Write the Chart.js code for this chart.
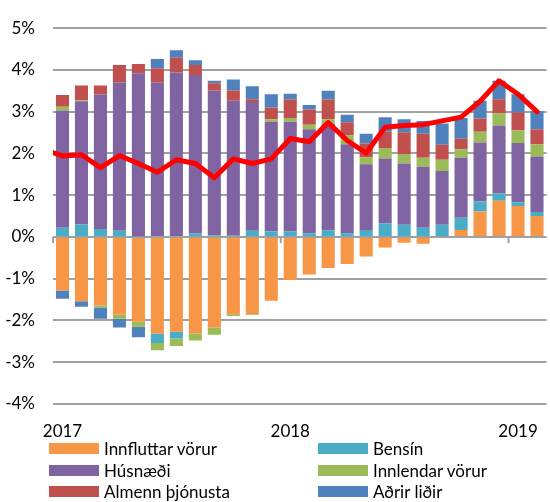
<!DOCTYPE html>
<html>
<head>
<meta charset="utf-8">
<script src="https://cdn.jsdelivr.net/npm/chart.js@4/dist/chart.umd.min.js"></script>
<style>
html,body{margin:0;padding:0;overflow:hidden;background:#fff;width:550px;height:502px}
#wrap{position:relative;width:550px;height:502px;overflow:hidden}
#c{position:absolute;left:0;top:0}
.lg{position:absolute;font-family:Lato,"Open Sans",sans-serif;font-size:17px;color:#000;display:flex;align-items:center;white-space:nowrap;height:22px}
.sw{width:50px;height:11px;margin-right:5px;flex:none}
</style>
</head>
<body>
<div id="wrap"><canvas id="c" width="554" height="502"></canvas></div>
<script>
// Months (Jan 2017 - Feb 2019)
const categories = [
  '2017-01','2017-02','2017-03','2017-04','2017-05','2017-06','2017-07','2017-08','2017-09','2017-10','2017-11','2017-12',
  '2018-01','2018-02','2018-03','2018-04','2018-05','2018-06','2018-07','2018-08','2018-09','2018-10','2018-11','2018-12',
  '2019-01','2019-02'
];

// Contributions to inflation (percentage points)
const innfluttarVorur = [-1.28,-1.54,-1.64,-1.86,-2.03,-2.31,-2.27,-2.31,-2.17,-1.85,-1.85,-1.53,-1.03,-0.90,-0.74,-0.65,-0.47,-0.25,-0.14,-0.16,0.00,0.17,0.61,0.87,0.74,0.50];
const bensin          = [0.22,0.30,0.19,0.15,0.01,-0.23,-0.16,0.09,0.04,0.03,0.15,0.13,0.13,0.09,0.16,0.09,0.17,0.32,0.29,0.22,0.29,0.29,0.24,0.17,0.09,0.10];
const husnaedi        = [2.81,2.95,3.22,3.55,3.91,3.70,3.94,3.79,3.47,3.23,3.08,2.63,2.63,2.49,2.56,2.13,1.57,1.56,1.47,1.46,1.29,1.44,1.41,1.63,1.42,1.33];
const innlendarVorur  = [0.09,0.02,-0.05,-0.10,-0.12,-0.17,-0.18,-0.17,-0.17,-0.04,-0.02,0.06,0.09,0.11,0.10,0.21,0.17,0.25,0.23,0.22,0.27,0.20,0.26,0.29,0.30,0.29];
const almennThjonusta = [0.28,0.36,0.22,0.42,0.22,0.34,0.35,0.24,0.17,0.25,0.07,0.28,0.44,0.36,0.47,0.32,0.33,0.39,0.52,0.57,0.36,0.25,0.32,0.34,0.43,0.36];
const adrirLidir      = [-0.20,-0.13,-0.27,-0.21,-0.25,0.22,0.18,0.11,0.06,0.26,0.31,0.32,0.14,0.11,0.21,0.18,0.23,0.35,0.31,0.31,0.51,0.50,0.42,0.44,0.44,0.43];

// Inflation (%), Dec 2016 - Feb 2019 (first point lies just outside the plot)
const inflationMonths = ['2016-12'].concat(categories);
const inflation = [2.10,1.94,1.97,1.66,1.95,1.76,1.55,1.85,1.76,1.42,1.87,1.76,1.87,2.36,2.28,2.74,2.31,2.01,2.63,2.67,2.69,2.78,2.87,3.25,3.74,3.42,3.00];

// Axis settings
const yMin = -4, yMax = 5, yStep = 1;

const seriesNames = ['Innfluttar vörur','Bensín','Húsnæði','Innlendar vörur','Almenn þjónusta','Aðrir liðir'];
const seriesData = [innfluttarVorur, bensin, husnaedi, innlendarVorur, almennThjonusta, adrirLidir];
const seriesColors = ['#F79646','#4BACC6','#8064A2','#9BBB59','#C0504D','#4F81BD'];
const gridColor = '#a0a0a0';
const FONT = 'Lato';

const datasets = seriesNames.map((n,i)=>({
  type:'bar', label:n, data:seriesData[i], backgroundColor:seriesColors[i],
  borderWidth:0, barPercentage:0.69, categoryPercentage:1, grouped:false, stack:'s', order:1,
  xAxisID:'x', yAxisID:'y'
}));
datasets.push({
  type:'line', label:'Verðbólga',
  data: inflation.map((v,i)=>({x: categories.indexOf(inflationMonths[i]), y: v})),
  borderColor:'#FF0000', borderWidth:5, pointRadius:0, tension:0, fill:false,
  borderJoinStyle:'round', borderCapStyle:'round', order:0, stack:'line',
  xAxisID:'x2', yAxisID:'y'
});

const yearTicks = {
  id:'yearTicks',
  beforeDatasetsDraw(chart){
    const x2 = chart.scales.x2, y = chart.scales.y, ctx = chart.ctx;
    const y0 = y.getPixelForValue(0);
    ctx.save();
    ctx.strokeStyle = gridColor; ctx.lineWidth = 2;
    categories.forEach((c,i)=>{
      if (c.endsWith('-01')) {
        const x = x2.getPixelForValue(i - 0.5);
        ctx.beginPath(); ctx.moveTo(x, y0); ctx.lineTo(x, y0 + 6); ctx.stroke();
      }
    });
    ctx.restore();
  }
};

new Chart(document.getElementById('c'), {
  data:{ labels: categories, datasets },
  plugins:[yearTicks],
  options:{
    responsive:false, animation:false,
    layout:{ padding:{ top:15, bottom:0, left:0, right:0 } },
    plugins:{ legend:{display:false}, tooltip:{enabled:false} },
    scales:{
      x:{
        type:'category', offset:true, stacked:true,
        grid:{ display:false, drawTicks:false }, border:{ display:false },
        ticks:{ autoSkip:false, maxRotation:0, minRotation:0, padding:17,
          color:'#000', font:{ family:FONT, size:17 },
          callback:(v,i)=> categories[i].endsWith('-01') ? categories[i].slice(0,4) : '' },
        afterFit:(s)=>{ s.height = 98; }
      },
      x2:{ type:'linear', display:false, min:-0.5, max:categories.length - 0.5 },
      y:{
        stacked:true, min:yMin, max:yMax,
        ticks:{ stepSize:yStep, padding:18, color:'#000', font:{ family:FONT, size:17 },
          callback:(v)=> v + '%' },
        grid:{ color:gridColor, lineWidth:2, drawTicks:false },
        border:{ display:false },
        afterFit:(s)=>{ s.width = 53; }
      }
    }
  }
});

// Legend (two columns)
const wrap = document.getElementById('wrap');
const legendPos = [[49,437],[318,437],[49,459],[318,459],[49,480],[318,480]];
seriesNames.forEach((n,i)=>{
  const d = document.createElement('div');
  d.className = 'lg';
  d.style.left = legendPos[i][0] + 'px';
  d.style.top = legendPos[i][1] + 'px';
  const s = document.createElement('span'); s.className = 'sw'; s.style.background = seriesColors[i];
  const t = document.createElement('span'); t.textContent = n;
  d.appendChild(s); d.appendChild(t);
  wrap.appendChild(d);
});
</script>
</body>
</html>
